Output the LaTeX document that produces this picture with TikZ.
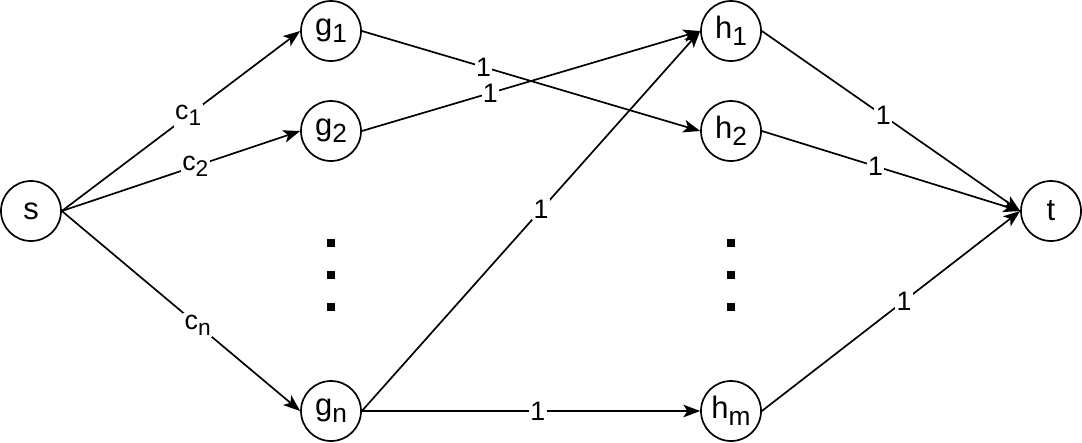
\documentclass[tikz,border=0pt]{standalone}
\usepackage{fontspec}
\setmainfont{Liberation Sans}
\usetikzlibrary{arrows.meta}

\newcommand{\lowidx}[1]{\raisebox{-0.45ex}{\scalebox{0.85}{#1}}}

\begin{document}
\begin{tikzpicture}[
    x=0.025cm, y=-0.025cm,
    vertex/.style = {
        circle, draw, line width=1.2pt,
        minimum size=1.5cm, inner sep=0pt,
        font=\fontsize{22}{26}\selectfont
    },
    arr/.style = {-{Stealth[length=12pt, width=9pt, inset=3pt]}, line width=1.2pt},
    wt/.style  = {fill=white, inner sep=1pt, font=\fontsize{19}{22}\selectfont}
]
\useasboundingbox (0,0) rectangle (1082,442);

%% Vertices
\node[vertex] (s)  at (31,211)   {s};
\node[vertex] (g1) at (331,31)   {g\lowidx{1}};
\node[vertex] (g2) at (331,131)  {g\lowidx{2}};
\node[vertex] (gn) at (331,411)  {g\lowidx{n}};
\node[vertex] (h1) at (731,31)   {h\lowidx{1}};
\node[vertex] (h2) at (731,131)  {h\lowidx{2}};
\node[vertex] (hm) at (731,411)  {h\lowidx{m}};
\node[vertex] (t)  at (1051,211) {t};

%% Dots
\foreach \y in {243,275,307} {
    \fill (327,\y-4) rectangle (335,\y+4);
    \fill (727,\y-4) rectangle (735,\y+4);
}

%% Arrows
\draw[arr] (s.east) -- node[wt, pos=0.53] {c\lowidx{1}} (g1.west);
\draw[arr] (s.east) -- node[wt, pos=0.56] {c\lowidx{2}} (g2.west);
\draw[arr] (s.east) -- node[wt, pos=0.57] {c\lowidx{n}} (gn.west);
\draw[arr] (g1.east) -- node[wt, pos=0.36] {1} (h2.west);
\draw[arr] (g2.east) -- node[wt, pos=0.38] {1} (h1.west);
\draw[arr] (gn.east) -- node[wt, pos=0.53] {1} (h1.west);
\draw[arr] (gn.east) -- node[wt, pos=0.52] {1} (hm.west);
\draw[arr] (h1.east) -- node[wt, pos=0.47] {1} (t.west);
\draw[arr] (h2.east) -- node[wt, pos=0.44] {1} (t.west);
\draw[arr] (hm.east) -- node[wt, pos=0.55] {1} (t.west);

\end{tikzpicture}
\end{document}
